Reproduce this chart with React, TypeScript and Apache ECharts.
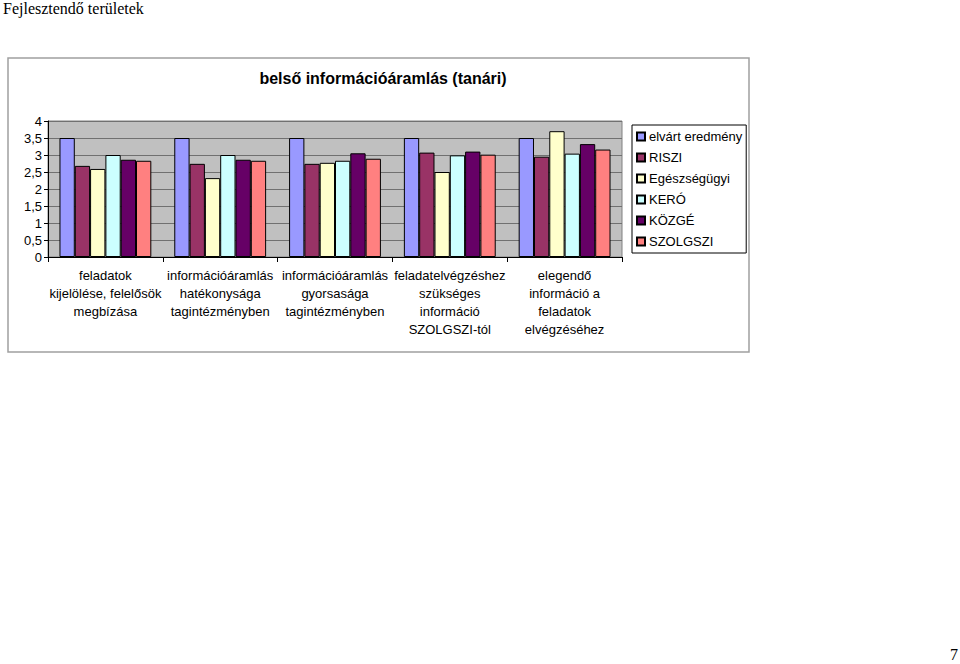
import React, { useEffect, useRef } from "react";
import * as echarts from "echarts";

const categories = [
  "feladatok\nkijelölése, felelősök\nmegbízása",
  "információáramlás\nhatékonysága\ntagintézményben",
  "információáramlás\ngyorsasága\ntagintézményben",
  "feladatelvégzéshez\nszükséges\ninformáció\nSZOLGSZI-tól",
  "elegendő\ninformáció a\nfeladatok\nelvégzéséhez",
];

const seriesNames = ["elvárt eredmény", "RISZI", "Egészségügyi", "KERÓ", "KÖZGÉ", "SZOLGSZI"];
const seriesColors = ["#9999FF", "#993366", "#FFFFCC", "#CCFFFF", "#660066", "#FF8080"];

const elvart = [3.5, 3.5, 3.5, 3.5, 3.5];
const riszi = [2.68, 2.74, 2.74, 3.07, 2.95];
const egeszsegugyi = [2.59, 2.32, 2.77, 2.5, 3.7];
const kero = [3.0, 3.0, 2.83, 2.99, 3.04];
const kozge = [2.86, 2.86, 3.05, 3.1, 3.32];
const szolgszi = [2.83, 2.83, 2.89, 3.01, 3.16];

const seriesValues = [elvart, riszi, egeszsegugyi, kero, kozge, szolgszi];

const yTicks = { min: 0, max: 4, interval: 0.5 };

export default function App() {
  const ref = useRef<HTMLDivElement>(null);
  useEffect(() => {
    if (!ref.current) return;
    const chart = echarts.init(ref.current, undefined, { renderer: "svg" });
    const font = "Liberation Sans, Arial, sans-serif";
    chart.setOption({
      animation: false,
      backgroundColor: "#fff",
      title: {
        text: "belső információáramlás (tanári)",
        left: 378,
        top: 65,
        textAlign: "center",
        textStyle: { fontFamily: font, fontSize: 16, fontWeight: "bold", color: "#000" },
      },
      graphic: [
        {
          type: "rect",
          shape: { x: 8, y: 58, width: 741, height: 294 },
          style: { fill: "none", stroke: "#a0a0a0", lineWidth: 1.5 },
          z: -10,
        },
        {
          type: "text",
          x: 3,
          y: 0,
          style: { text: "Fejlesztendő területek", font: "16px 'Liberation Serif', 'Times New Roman', serif", fill: "#000" },
        },
        {
          type: "text",
          x: 950,
          y: 646,
          style: { text: "7", font: "16px 'Liberation Serif', 'Times New Roman', serif", fill: "#000" },
        },
      ],
      legend: {
        orient: "vertical",
        left: 632,
        top: 125,
        width: 113,
        padding: [5, 4, 5, 4],
        borderColor: "#000",
        borderWidth: 1,
        backgroundColor: "#fff",
        icon: "rect",
        itemWidth: 8,
        itemHeight: 8,
        itemGap: 8,
        textStyle: { fontFamily: font, fontSize: 13, color: "#000", padding: [0, 0, 0, -1] },
        data: seriesNames,
      },
      grid: {
        left: 48,
        top: 121,
        width: 574,
        height: 136,
        show: true,
        backgroundColor: "#C0C0C0",
        borderColor: "#808080",
        borderWidth: 1,
        containLabel: false,
      },
      xAxis: {
        type: "category",
        data: categories,
        axisLine: { show: true, lineStyle: { color: "#000", width: 1 } },
        axisTick: { show: true, length: 5, alignWithLabel: false, lineStyle: { color: "#000" } },
        axisLabel: {
          interval: 0,
          margin: 9,
          fontFamily: font,
          fontSize: 13,
          lineHeight: 18,
          color: "#000",
          align: "center",
        },
      },
      yAxis: {
        type: "value",
        min: yTicks.min,
        max: yTicks.max,
        interval: yTicks.interval,
        axisLine: { show: true, lineStyle: { color: "#000", width: 1 } },
        axisTick: { show: true, length: 4, lineStyle: { color: "#000" } },
        axisLabel: {
          fontFamily: font,
          fontSize: 13,
          color: "#000",
          margin: 6,
          formatter: (v: number) => String(v).replace(".", ","),
        },
        splitLine: { show: true, lineStyle: { color: "#707070", width: 1 } },
      },
      series: seriesNames.map((name, i) => ({
        name,
        type: "bar",
        data: seriesValues[i],
        barGap: "0%",
        barCategoryGap: "20%",
        itemStyle: { color: seriesColors[i], borderColor: "#000", borderWidth: 1 },
      })),
    });
    return () => chart.dispose();
  }, []);
  return (
    <div
      ref={ref}
      style={{ position: "fixed", left: 0, top: 0, width: 960, height: 664 }}
    />
  );
}
